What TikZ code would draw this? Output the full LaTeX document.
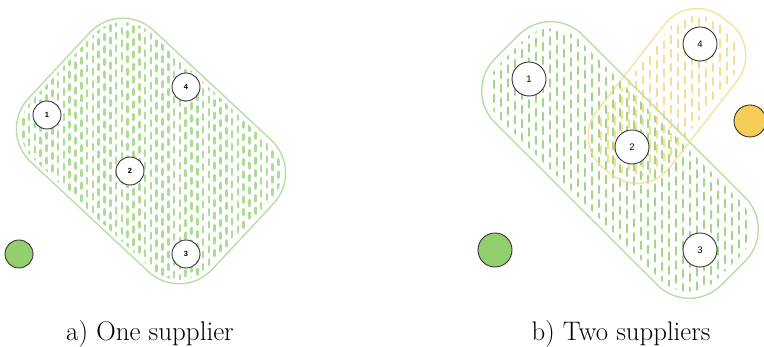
\documentclass[tikz,border=0pt]{standalone}
\usepackage{fontspec}
\newfontfamily\numfont{Liberation Sans}
\definecolor{gline}{HTML}{B5E0A3}
\definecolor{gdash}{HTML}{AEDC97}
\definecolor{gdashb}{HTML}{A2D589}
\definecolor{yline}{HTML}{F5DA88}
\definecolor{ydash}{HTML}{F5D474}
\definecolor{gsup}{HTML}{93CF6E}
\definecolor{ysup}{HTML}{F6CD57}
\definecolor{ring}{HTML}{333333}
\begin{document}
\begin{tikzpicture}[x=1pt,y=1pt,
  cust/.style={circle, draw=ring, line width=0.9pt, fill=white, inner sep=0pt},
  custa/.style={cust, minimum size=28pt, font=\numfont\bfseries\fontsize{7.5}{8}\selectfont},
  custb/.style={cust, minimum size=34pt, font=\numfont\fontsize{9.5}{10}\selectfont},
  supplier/.style={circle, draw=ring, line width=0.9pt, inner sep=0pt},
  hatcha/.style={gdash, line width=2.6pt, line cap=round, dash pattern=on 5.8pt off 6.7pt},
  hatchb/.style={line width=2.9pt, line cap=round, dash pattern=on 7.1pt off 6.9pt},
  caption/.style={font=\fontsize{27}{32}\selectfont, anchor=base}]
\useasboundingbox (0,0) rectangle (764,347);

% ---------- left: one supplier ----------
\begin{scope}[shift={(151,196)}, rotate=-43]
  \begin{scope}
    \clip[rounded corners=41pt] (-121.5,-86) rectangle (121.5,86);
    \begin{scope}[rotate=43]
      \foreach \i in {0,...,64} {
        \pgfmathsetmacro\xx{-180+\i*5.8}
        \pgfmathsetmacro\ph{mod(\i,2)*6.2+mod(\i,3)*1.4}
        \draw[hatcha, dash phase=\ph pt] (\xx,-180) -- (\xx,180);
      }
    \end{scope}
  \end{scope}
  \draw[gline, line width=1.4pt, rounded corners=45pt] (-125.5,-90) rectangle (125.5,90);
\end{scope}

\node[custa] (a1) at (47,232) {1};
\node[custa] (a4) at (186,260) {4};
\node[custa] (a2) at (130,176) {2};
\node[custa] (a3) at (186,93) {3};
\node[supplier, fill=gsup, minimum size=28pt] (ga) at (19,93) {};

% ---------- right: two suppliers ----------
\begin{scope}[shift={(620,187)}, rotate=-45]
  \begin{scope}
    \clip[rounded corners=39pt] (-153,-56) rectangle (153,56);
    \begin{scope}[rotate=45]
      \foreach \i in {0,...,70} {
        \pgfmathsetmacro\xx{-245+\i*7}
        \pgfmathsetmacro\ph{mod(\i,2)*7+mod(\i,3)*1.5}
        \draw[hatchb, gdashb, dash phase=\ph pt] (\xx,-240) -- (\xx,240);
      }
    \end{scope}
  \end{scope}
  \draw[gline, line width=1.4pt, rounded corners=45pt] (-160,-62) rectangle (160,62);
\end{scope}

\begin{scope}[shift={(667,251)}, rotate=52, opacity=0.8]
  \begin{scope}
    \clip[rounded corners=35pt] (-89,-40) rectangle (89,40);
    \begin{scope}[rotate=-52]
      \foreach \i in {0,...,40} {
        \pgfmathsetmacro\xx{-136+\i*7}
        \pgfmathsetmacro\ph{mod(\i,2)*7+mod(\i,3)*1.5}
        \draw[hatchb, ydash, dash phase=\ph pt] (\xx,-140) -- (\xx,140);
      }
    \end{scope}
  \end{scope}
  \draw[yline, line width=1.4pt, rounded corners=41pt] (-96,-46) rectangle (96,46);
\end{scope}

\node[custb] (b1) at (529,268) {1};
\node[custb] (b4) at (700,303) {4};
\node[custb] (b2) at (632,200) {2};
\node[custb] (b3) at (700,97) {3};
\node[supplier, fill=gsup, minimum size=34pt] (gb) at (495,97) {};
\node[supplier, fill=ysup, minimum size=32pt] (yb) at (750,226) {};

% ---------- captions ----------
\node[caption] (capa) at (150,6) {a) One supplier};
\node[caption, font=\fontsize{26.8}{32}\selectfont] (capb) at (621,6) {b) Two suppliers};
\end{tikzpicture}
\end{document}
